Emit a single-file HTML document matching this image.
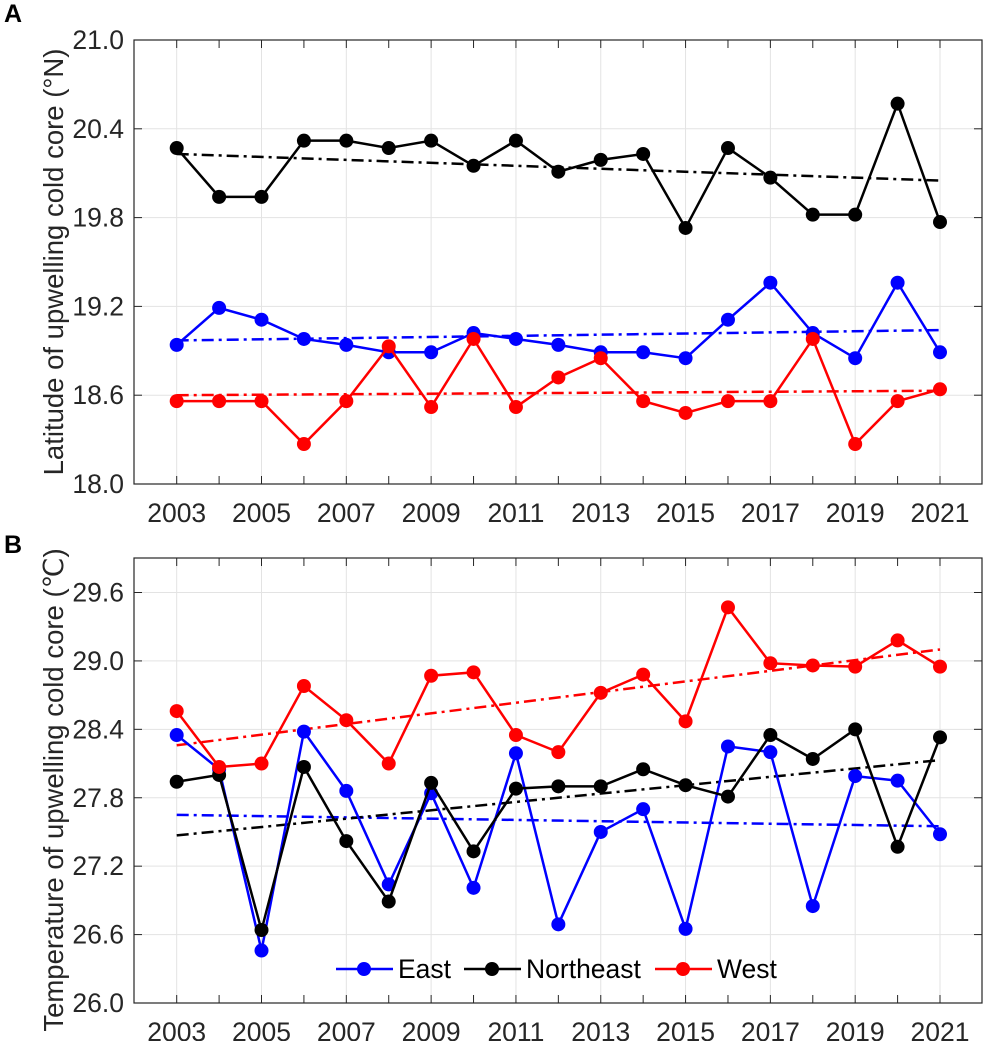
<!DOCTYPE html>
<html><head><meta charset="utf-8"><style>
body{margin:0;background:#fff;}
svg{display:block;font-family:"Liberation Sans",sans-serif;}
</style></head><body>
<svg id="chart" width="983" height="1041" viewBox="0 0 983 1041"></svg>
<script>
const years=[2003,2004,2005,2006,2007,2008,2009,2010,2011,2012,2013,2014,2015,2016,2017,2018,2019,2020,2021];
const latNE=[20.27,19.94,19.94,20.32,20.32,20.27,20.32,20.15,20.32,20.11,20.19,20.23,19.73,20.27,20.07,19.82,19.82,20.57,19.77];
const latE=[18.94,19.19,19.11,18.98,18.94,18.89,18.89,19.02,18.98,18.94,18.89,18.89,18.85,19.11,19.36,19.02,18.85,19.36,18.89];
const latW=[18.56,18.56,18.56,18.27,18.56,18.93,18.52,18.98,18.52,18.72,18.85,18.56,18.48,18.56,18.56,18.98,18.27,18.56,18.64];
const latTrendNE=[20.23,20.05];
const latTrendE=[18.97,19.04];
const latTrendW=[18.60,18.63];
const tmpE=[28.35,28.05,26.46,28.38,27.86,27.04,27.84,27.01,28.19,26.69,27.50,27.70,26.65,28.25,28.20,26.85,27.99,27.95,27.48];
const tmpNE=[27.94,28.00,26.64,28.07,27.42,26.89,27.93,27.33,27.88,27.90,27.90,28.05,27.91,27.81,28.35,28.14,28.40,27.37,28.33];
const tmpW=[28.56,28.07,28.10,28.78,28.48,28.10,28.87,28.90,28.35,28.20,28.72,28.88,28.47,29.47,28.98,28.96,28.95,29.18,28.95];
const tmpTrendE=[27.65,27.55];
const tmpTrendNE=[27.47,28.13];
const tmpTrendW=[28.26,29.10];
const latTicks=[18.0,18.6,19.2,19.8,20.4,21.0];
const tmpTicks=[26.0,26.6,27.2,27.8,28.4,29.0,29.6];
const xLabels=[2003,2005,2007,2009,2011,2013,2015,2017,2019,2021];

const NS="http://www.w3.org/2000/svg";
const svg=document.getElementById('chart');
function mk(tag,attrs,parent){const e=document.createElementNS(NS,tag);for(const k in attrs)e.setAttribute(k,attrs[k]);(parent||svg).appendChild(e);return e;}
const L=134,R=982;
const xS=y=>176.7+(y-2003)*(940-176.7)/18;
function panel(cfg){
  const g=mk('g',{});
  
  
  const yS=v=>cfg.y0+(v-cfg.v0)*(cfg.y1-cfg.y0)/(cfg.v1-cfg.v0);
  xLabels.forEach(yr=>{const l=mk('line',{x1:xS(yr),x2:xS(yr),y1:cfg.top,y2:cfg.bot,stroke:'#e3e3e3','stroke-width':1},g);
    });
  cfg.ticks.forEach(v=>{const l=mk('line',{x1:L,x2:R,y1:yS(v),y2:yS(v),stroke:'#e3e3e3','stroke-width':1},g);
    });
  years.forEach(yr=>{
    mk('line',{x1:xS(yr),x2:xS(yr),y1:cfg.bot,y2:cfg.bot-8,stroke:'#262626','stroke-width':1},g);
    mk('line',{x1:xS(yr),x2:xS(yr),y1:cfg.top,y2:cfg.top+8,stroke:'#262626','stroke-width':1},g);
  });
  cfg.ticks.forEach(v=>{
    mk('line',{x1:L,x2:L+8,y1:yS(v),y2:yS(v),stroke:'#262626','stroke-width':1},g);
    mk('line',{x1:R-8,x2:R,y1:yS(v),y2:yS(v),stroke:'#262626','stroke-width':1},g);
    const t=mk('text',{x:124,y:yS(v)+9,'text-anchor':'end','font-size':26.5,fill:'#262626'},g);
    t.textContent=v.toFixed(1);
    
  });
  xLabels.forEach(yr=>{const t=mk('text',{x:xS(yr),y:cfg.bot+38,'text-anchor':'middle','font-size':26.5,fill:'#262626'},g);
    t.textContent=yr;});
  cfg.trends.forEach(([arr,c,n])=>{const l=mk('line',{x1:xS(2003),x2:xS(2021),y1:yS(arr[0]),y2:yS(arr[1]),stroke:c,'stroke-width':2.5,'stroke-dasharray':'12,5,3,5'},g);
    });
  cfg.series.forEach(([arr,c,n])=>{
    const sg=mk('g',{},g);
    mk('polyline',{points:arr.map((v,i)=>xS(years[i])+','+yS(v)).join(' '),fill:'none',stroke:c,'stroke-width':2.5},sg);
    arr.forEach((v,i)=>{const p=mk('circle',{cx:xS(years[i]),cy:yS(v),r:7,fill:c},sg);
      });
  });
  const box=mk('rect',{x:L,y:cfg.top,width:R-L,height:cfg.bot-cfg.top,fill:'none',stroke:'#262626','stroke-width':1.2},g);
  
  const t=mk('text',{transform:`translate(63,${cfg.titleY}) rotate(-90)`,'text-anchor':'middle','font-size':cfg.titleSize,fill:'#262626'},g);
  t.textContent=cfg.title;
  const pl=mk('text',{x:4,y:cfg.letterY,'font-size':25,'font-weight':'bold',fill:'#000'},g);
  pl.textContent=cfg.letter;
  return yS;
}
panel({name:'panel-a',top:40,bot:484,y0:484,y1:40,v0:18,v1:21,ticks:latTicks,title:'Latitude of upwelling cold core (°N)',titleSize:27.5,titleY:262,letter:'A',letterY:22,
  trends:[[latTrendNE,'#000','trend-northeast'],[latTrendE,'#0000ff','trend-east'],[latTrendW,'#ff0000','trend-west']],
  series:[[latNE,'#000','series-northeast'],[latE,'#0000ff','series-east'],[latW,'#ff0000','series-west']]});
panel({name:'panel-b',top:558,bot:1003,y0:1003,y1:592.5,v0:26,v1:29.6,ticks:tmpTicks,title:'Temperature of upwelling cold core (℃)',titleSize:27.5,titleY:790,letter:'B',letterY:553,
  trends:[[tmpTrendE,'#0000ff','trend-east'],[tmpTrendNE,'#000','trend-northeast'],[tmpTrendW,'#ff0000','trend-west']],
  series:[[tmpE,'#0000ff','series-east'],[tmpNE,'#000','series-northeast'],[tmpW,'#ff0000','series-west']]});
const leg=mk('g',{});
[['East','#0000ff',336],['Northeast','#000',464],['West','#ff0000',655]].forEach(([n,c,x])=>{
  const e=mk('g',{},leg);
  mk('line',{x1:x,x2:x+57,y1:969,y2:969,stroke:c,'stroke-width':2.5},e);
  mk('circle',{cx:x+28,cy:969,r:7,fill:c},e);
  const t=mk('text',{x:x+62,y:978,'font-size':26.5,fill:'#000'},e);t.textContent=n;
});
</script>
</body></html>
